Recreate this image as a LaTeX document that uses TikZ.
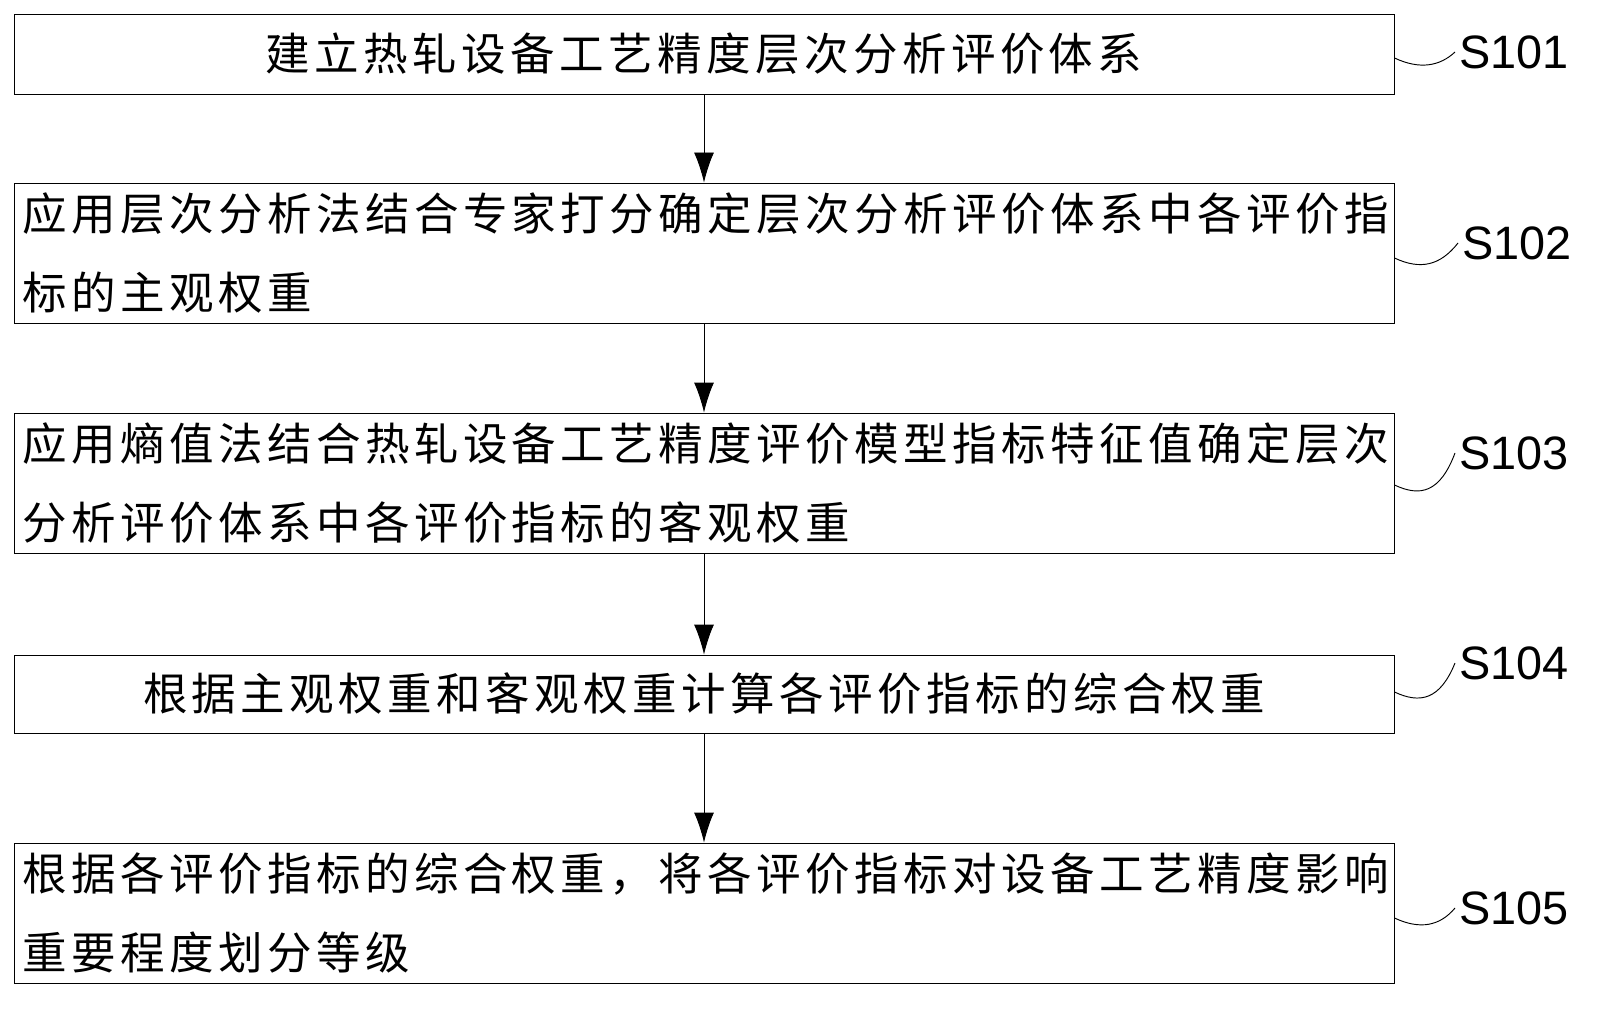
\documentclass[tikz,border=0pt]{standalone}
\usepackage{fontspec}
\newfontfamily\cjk[LetterSpace=10]{Noto Sans CJK SC}
\setmainfont{Liberation Sans}
\usetikzlibrary{positioning,arrows.meta}
\begin{document}
\begin{tikzpicture}[x=0.03cm,y=-0.03cm]
\tikzset{stepbox/.style={rectangle,draw=black,thick,minimum width=41.4cm,inner sep=0pt,font=\fontsize{38}{68}\cjk},
 steptext/.style={text width=40.9cm,align=left},
 label/.style={font=\fontsize{40}{40}\selectfont,anchor=west},
 arr/.style={-{Latex[length=0.9cm,width=0.6cm]},thick}}
\useasboundingbox (0,0) rectangle (1619,1034);
% boxes
\node[stepbox,minimum height=2.4cm] (b1) at (704,54) {建立热轧设备工艺精度层次分析评价体系};
\node[stepbox,steptext,minimum height=4.2cm] (b2) at (704,253) {应用层次分析法结合专家打分确定层次分析评价体系中各评价指\\标的主观权重};
\node[stepbox,steptext,minimum height=4.2cm] (b3) at (704,483) {应用熵值法结合热轧设备工艺精度评价模型指标特征值确定层次\\分析评价体系中各评价指标的客观权重};
\node[stepbox,minimum height=2.34cm] (b4) at (704,694) {根据主观权重和客观权重计算各评价指标的综合权重};
\node[stepbox,steptext,minimum height=4.2cm] (b5) at (704,913) {根据各评价指标的综合权重，将各评价指标对设备工艺精度影响\\重要程度划分等级};
% arrows
\draw[arr] (b1) -- (b2);
\draw[arr] (b2) -- (b3);
\draw[arr] (b3) -- (b4);
\draw[arr] (b4) -- (b5);
% labels
\node[label] (s1) at (1455,52) {S101};
\node[label] (s2) at (1458,243) {S102};
\node[label] (s3) at (1455,453) {S103};
\node[label] (s4) at (1455,663) {S104};
\node[label] (s5) at (1455,908) {S105};
\foreach \i/\y in {1/58,2/258,3/485,4/692,5/918}
  \draw[thick] (b\i.east |- 0,\y) .. controls (1420,\y+12) and (1440,\y+8) .. (s\i.west);
\end{tikzpicture}
\end{document}
